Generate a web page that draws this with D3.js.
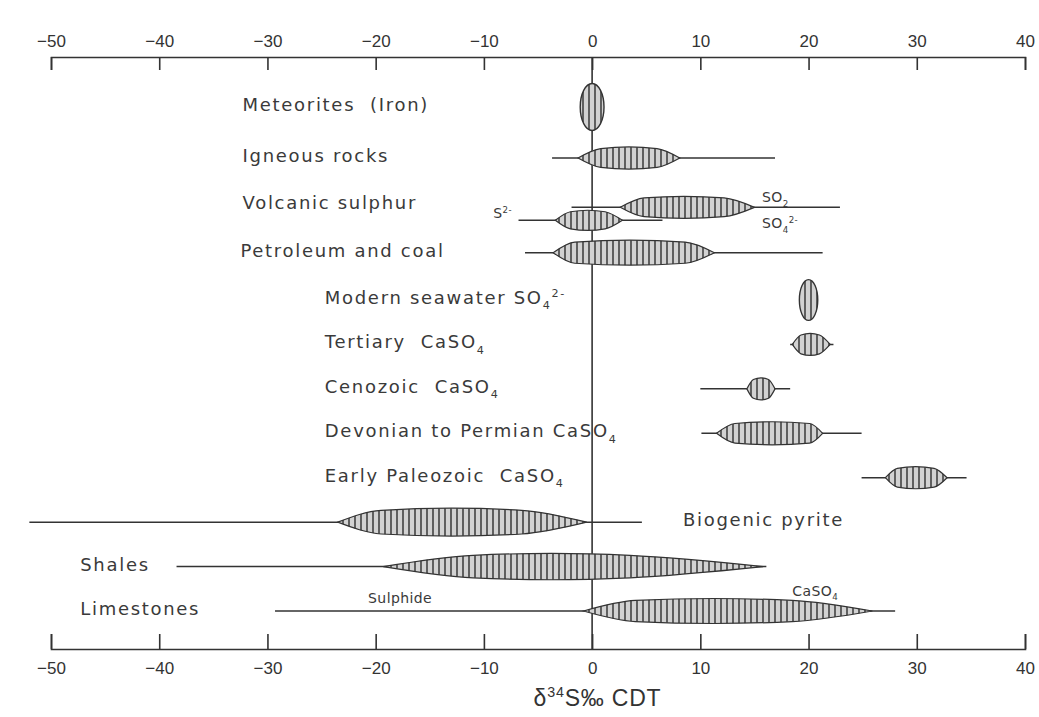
<!DOCTYPE html>
<html>
<head>
<meta charset="utf-8">
<script src="https://cdn.jsdelivr.net/npm/d3@7"></script>
<style>
  body { margin: 0; background: #fff; }
  svg { font-family: "Liberation Sans", Arial, sans-serif; }
  .lbl { font-family: "DejaVu Sans", sans-serif; font-size: 18px; fill: #3a3a3a; letter-spacing: 1.7px; white-space: pre; }
  .note { font-family: "DejaVu Sans", sans-serif; font-size: 14px; fill: #3a3a3a; letter-spacing: 0.4px; }
  .axis text { font-size: 17px; fill: #333; font-family: "Liberation Sans", Arial, sans-serif; }
  .axis path, .axis line { stroke: #333; stroke-width: 1.6; }
</style>
</head>
<body>
<div id="chart"></div>
<script>
// rows, top to bottom
const rows = ["Meteorites", "Igneous", "Volcanic", "Petroleum", "Seawater", "Tertiary",
  "Cenozoic", "Devonian", "EarlyPaleozoic", "Biogenic", "Shales", "Limestones"]
const tickValues = [-50, -40, -30, -20, -10, 0, 10, 20, 30, 40]

// full range of d34S values: [row, lane, min, max]
const ranges = [
  ["Igneous", 0, -3.7, 16.9],
  ["Volcanic", 0, -1.9, 22.9],
  ["Volcanic", 1, -6.8, 6.5],
  ["Petroleum", 0, -6.2, 21.3],
  ["Tertiary", 0, 18.3, 22.3],
  ["Cenozoic", 0, 10.0, 18.3],
  ["Devonian", 0, 10.1, 24.9],
  ["EarlyPaleozoic", 0, 24.9, 34.6],
  ["Biogenic", 0, -52, 4.6],
  ["Shales", 0, -38.4, 16.1],
  ["Limestones", 0, -29.3, 28.0]
]

// frequency spindles: [row, lane, start, coreLo, coreHi, end, relative peak]
const spindles = [
  ["Igneous", 0, -1.3, 0.8, 6.0, 8.1, 0.46],
  ["Volcanic", 0, 2.6, 4.8, 12.2, 15.0, 0.46],
  ["Volcanic", 1, -3.4, -2.0, 1.2, 2.8, 0.42],
  ["Petroleum", 0, -3.6, -1.6, 8.6, 11.3, 0.52],
  ["Tertiary", 0, 18.5, 19.3, 21.0, 22.0, 0.46],
  ["Cenozoic", 0, 14.3, 14.9, 16.3, 16.9, 0.46],
  ["Devonian", 0, 11.5, 13.2, 20.1, 21.3, 0.48],
  ["EarlyPaleozoic", 0, 27.1, 28.2, 31.6, 32.8, 0.46],
  ["Biogenic", 0, -23.5, -19.5, -6.5, -0.5, 0.58],
  ["Shales", 0, -19.3, -11.0, 3.5, 15.8, 0.55],
  ["Limestones", 0, -0.8, 4.0, 18.5, 25.9, 0.52]
]

// narrow distributions drawn as upright ovals: [row, centre, half width, relative peak]
const ovals = [
  ["Meteorites", 0, 1.1, 0.98],
  ["Seawater", 20, 0.85, 0.85]
]

// row labels: [row, x (per mil), parts]  parts: [text, "sub"|"sup"|null]
const labels = [
  ["Meteorites", -32.3, [["Meteorites  (Iron)"]]],
  ["Igneous", -32.3, [["Igneous rocks"]]],
  ["Volcanic", -32.3, [["Volcanic sulphur"]]],
  ["Petroleum", -32.5, [["Petroleum and coal"]]],
  ["Seawater", -24.7, [["Modern seawater SO"], ["4", "sub"], ["2-", "sup"]]],
  ["Tertiary", -24.7, [["Tertiary  CaSO"], ["4", "sub"]]],
  ["Cenozoic", -24.7, [["Cenozoic  CaSO"], ["4", "sub"]]],
  ["Devonian", -24.7, [["Devonian to Permian CaSO"], ["4", "sub"]]],
  ["EarlyPaleozoic", -24.7, [["Early Paleozoic  CaSO"], ["4", "sub"]]],
  ["Biogenic", 8.4, [["Biogenic pyrite"]]],
  ["Shales", -47.3, [["Shales"]]],
  ["Limestones", -47.3, [["Limestones"]]]
]

// small notes beside the bars: [row, lane, x, anchor, dy, parts]
const notes = [
  ["Volcanic", 1, -7.4, "end", -2, [["S"], ["2-", "sup"]]],
  ["Volcanic", 0, 15.7, "start", -5, [["SO"], ["2", "sub"]]],
  ["Volcanic", 1, 15.7, "start", 8, [["SO"], ["4", "sub"], ["2-", "sup"]]],
  ["Limestones", 0, -20.7, "start", -8, [["Sulphide"]]],
  ["Limestones", 0, 18.5, "start", -15, [["CaSO"], ["4", "sub"]]]
]

const W = 1039, H = 717
const svg = d3.select("#chart").append("svg")
  .attr("width", W).attr("height", H)

const x = d3.scaleLinear().domain([-50, 40]).range([51, 1025])
// row spacing in the figure is slightly uneven, so a piecewise scale on the row index
const yIdx = d3.scaleLinear().domain([0, 1, 4, 11]).range([107, 158, 300, 611])
const y = row => yIdx(rows.indexOf(row))
const laneVolc = d3.scaleOrdinal().domain([0, 1]).range([2, 15])
const yy = (row, l) => y(row) + (row == "Volcanic" ? laneVolc(l) : 0)
const h = d3.scaleLinear().domain([0, 1]).range([0, 24])

// hatch pattern
const defs = svg.append("defs")
const pat = defs.append("pattern")
  .attr("id", "hatch").attr("patternUnits", "userSpaceOnUse")
  .attr("width", 6).attr("height", 10)
pat.append("rect").attr("width", 6).attr("height", 10).attr("fill", "#d2d2d2")
pat.append("line").attr("x1", 1).attr("x2", 1).attr("y1", 0).attr("y2", 10)
  .attr("stroke", "#2e2e2e").attr("stroke-width", 1.4)

// axes
const topAxis = svg.append("g").attr("class", "axis")
  .attr("transform", "translate(0,57)")
  .call(d3.axisTop(x).tickValues(tickValues).tickSize(-13).tickSizeOuter(-13).tickPadding(10))
const bottomAxis = svg.append("g").attr("class", "axis")
  .attr("transform", "translate(0,649)")
  .call(d3.axisBottom(x).tickValues(tickValues).tickSize(-15).tickSizeOuter(-15).tickPadding(10))
bottomAxis.selectAll("text").attr("dy", "0.9em")

// zero line
svg.append("line")
  .attr("x1", x(0)).attr("x2", x(0)).attr("y1", 57).attr("y2", 649)
  .attr("stroke", "#333").attr("stroke-width", 1.6)

// range lines
svg.selectAll(".range")
  .data(ranges)
  .enter()
  .append("line")
    .attr("class", "range")
    .attr("x1", d => x(d[2])).attr("x2", d => x(d[3]))
    .attr("y1", d => yy(d[0], d[1])).attr("y2", d => yy(d[0], d[1]))
    .attr("stroke", "#333").attr("stroke-width", 1.5)

// spindles: pointed ends, rounded body
const area = d3.area()
  .x(p => x(p[0]))
  .y0(p => p[2] - h(p[1]))
  .y1(p => p[2] + h(p[1]))
  .curve(d3.curveMonotoneX)

svg.selectAll(".spindle")
  .data(spindles)
  .enter()
  .append("path")
    .attr("class", "spindle")
    .attr("d", d => {
      const c = yy(d[0], d[1]), p = d[6]
      return area([[d[2], 0, c], [d[3], p * 0.85, c], [(d[3] + d[4]) / 2, p, c],
        [d[4], p * 0.85, c], [d[5], 0, c]])
    })
    .attr("fill", "url(#hatch)")
    .attr("stroke", "#333").attr("stroke-width", 1.2)

// ovals
svg.selectAll(".oval")
  .data(ovals)
  .enter()
  .append("ellipse")
    .attr("class", "oval")
    .attr("cx", d => x(d[1]))
    .attr("cy", d => y(d[0]))
    .attr("rx", d => x(d[1] + d[2]) - x(d[1]))
    .attr("ry", d => h(d[3]))
    .attr("fill", "url(#hatch)")
    .attr("stroke", "#333").attr("stroke-width", 1.4)

// text helpers
function addParts(t, parts, big) {
  let shift = 0
  parts.forEach(p => {
    const ts = t.append("tspan").text(p[0])
    let target = 0
    if (p[1] == "sub") { target = big * 0.3; ts.style("font-size", (big * 0.62) + "px") }
    if (p[1] == "sup") { target = -big * 0.38; ts.style("font-size", (big * 0.62) + "px") }
    ts.attr("dy", target - shift)
    shift = target
  })
}

labels.forEach(d => {
  const t = svg.append("text").attr("class", "lbl")
    .attr("x", x(d[1])).attr("y", y(d[0]) + 4)
  addParts(t, d[2], 18)
})

notes.forEach(d => {
  const t = svg.append("text").attr("class", "note")
    .attr("x", x(d[2])).attr("y", yy(d[0], d[1]) + d[4])
    .attr("text-anchor", d[3])
  addParts(t, d[5], 14)
})

// axis title
const title = svg.append("text")
  .attr("x", x(0.5)).attr("y", 706)
  .attr("text-anchor", "middle")
  .style("font-size", "23px").style("fill", "#333").style("letter-spacing", "0.8px")
addParts(title, [["δ"], ["34", "sup"], ["S‰ CDT"]], 23)
</script>
</body>
</html>
